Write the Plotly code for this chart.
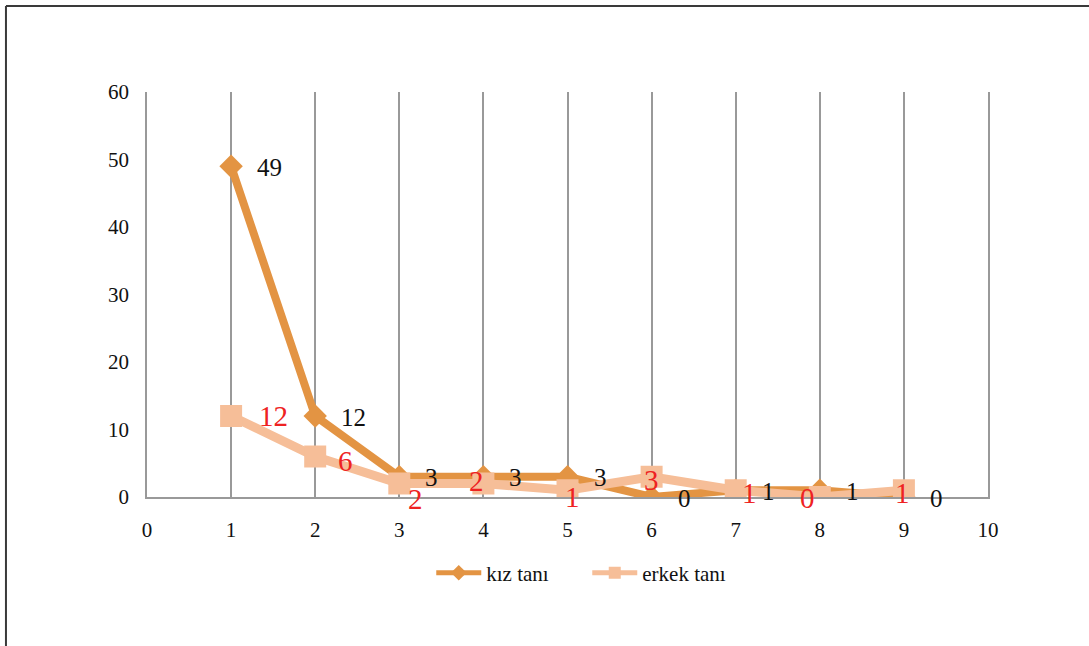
import plotly.graph_objects as go

x_vals = [1, 2, 3, 4, 5, 6, 7, 8, 9]
kiz_tani = [49, 12, 3, 3, 3, 0, 1, 1, 0]
erkek_tani = [12, 6, 2, 2, 1, 3, 1, 0, 1]
series_names = ["kız tanı", "erkek tanı"]
x_ticks = [0, 1, 2, 3, 4, 5, 6, 7, 8, 9, 10]
y_ticks = [0, 10, 20, 30, 40, 50, 60]

# label offsets (pixels) for the erkek labels, hand placed in the original
erkek_dx = [42, 30, 16, -7, 5, 0, 14, -12, -1]
erkek_dy = [0, -4, -15, 3, -7, -3, -3, -1, -3]

KIZ_COLOR = "#E39443"
ERKEK_COLOR = "#F6BE98"
GRID = "#999999"
FONT = "Liberation Serif"

fig = go.Figure()
fig.add_trace(go.Scatter(
    x=x_vals, y=kiz_tani, name=series_names[0], mode="lines+markers",
    line=dict(color=KIZ_COLOR, width=8),
    marker=dict(symbol="diamond", size=18, color=KIZ_COLOR),
))
fig.add_trace(go.Scatter(
    x=x_vals, y=erkek_tani, name=series_names[1], mode="lines+markers",
    line=dict(color=ERKEK_COLOR, width=9),
    marker=dict(symbol="square", size=22, color=ERKEK_COLOR),
))

for xv, yv in zip(x_vals, kiz_tani):
    fig.add_annotation(x=xv, y=yv, text=str(yv), showarrow=False,
                       xanchor="left", yanchor="middle", xshift=24, yshift=-1,
                       font=dict(family=FONT, size=25, color="#111111"))
for xv, yv, dx, dy in zip(x_vals, erkek_tani, erkek_dx, erkek_dy):
    fig.add_annotation(x=xv, y=yv, text=str(yv), showarrow=False,
                       xanchor="center", yanchor="middle", xshift=dx, yshift=dy,
                       font=dict(family=FONT, size=29, color="#EE2222"))

# outer frame lines (left and top)
fig.add_shape(type="line", xref="paper", yref="paper",
              x0=-0.1677, x1=-0.1677, y0=1.2123, y1=-0.4,
              line=dict(color="#3a3a3a", width=2))
fig.add_shape(type="line", xref="paper", yref="paper",
              x0=-0.1677, x1=1.2, y0=1.2123, y1=1.2123,
              line=dict(color="#3a3a3a", width=2))

fig.update_layout(
    width=1089, height=646,
    margin=dict(l=147, r=101, t=92, b=149),
    paper_bgcolor="white", plot_bgcolor="white",
    font=dict(family=FONT, size=21, color="#111111"),
    showlegend=True,
    legend=dict(orientation="h", x=0.338, xanchor="left", y=-0.188, yanchor="middle",
                font=dict(family=FONT, size=21, color="#111111"),
                itemsizing="constant", itemwidth=45, entrywidth=96,
                bgcolor="rgba(0,0,0,0)"),
    xaxis=dict(range=[0, 10], tickvals=x_ticks, ticktext=[str(t) for t in x_ticks],
               showgrid=True, gridcolor=GRID, gridwidth=1.5,
               showline=True, linecolor=GRID, linewidth=1.5,
               zeroline=False, ticks="outside", ticklen=13, tickcolor="rgba(0,0,0,0)",
               tickfont=dict(family=FONT, size=21, color="#111111"), fixedrange=True),
    yaxis=dict(range=[0, 60], tickvals=y_ticks, ticktext=[str(t) for t in y_ticks],
               showgrid=False, showline=True, linecolor=GRID, linewidth=1.5, mirror=True,
               zeroline=False,
               ticks="outside", ticklen=12, tickcolor="rgba(0,0,0,0)",
               tickfont=dict(family=FONT, size=21, color="#111111"), fixedrange=True),
)

fig.write_html("out.html")
